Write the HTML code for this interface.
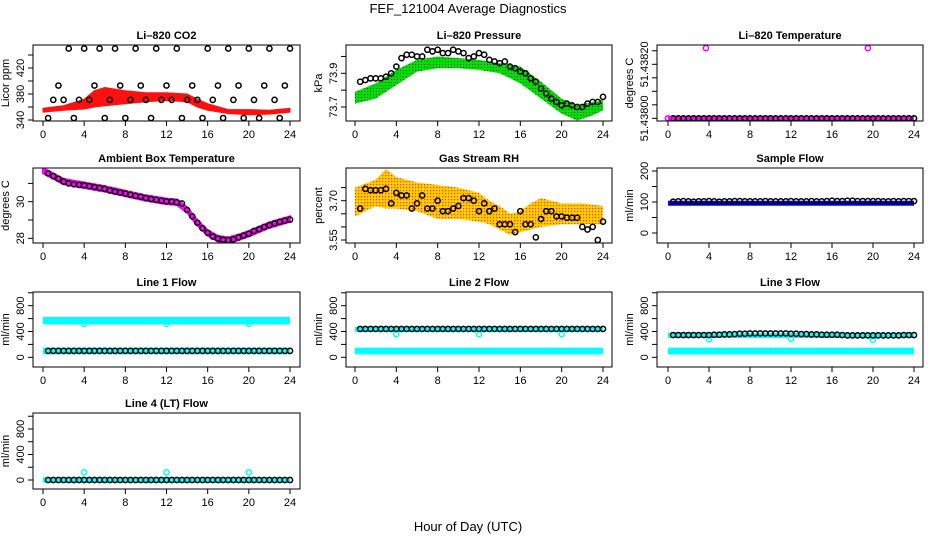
<!DOCTYPE html>
<html><head><meta charset="utf-8"><style>
html,body{margin:0;padding:0;background:#fff;}
svg{display:block;font-family:"Liberation Sans",sans-serif;}
</style></head><body>
<svg id="chart" width="936" height="540" viewBox="0 0 936 540" xmlns="http://www.w3.org/2000/svg">
<defs>
<pattern id="pGreen" width="3" height="3" patternUnits="userSpaceOnUse"><rect width="3" height="3" fill="#00e000"/><rect x="1" y="1" width="1" height="1" fill="#0a3a0a"/></pattern>
<pattern id="pOrange" width="3" height="3" patternUnits="userSpaceOnUse"><rect width="3" height="3" fill="#ffd000"/><rect x="1" y="1" width="1.2" height="1.2" fill="#ff3000"/></pattern>
</defs>
<text x="468" y="13" font-size="13" text-anchor="middle">FEF_121004  Average Diagnostics</text>
<text x="468" y="531" font-size="13" text-anchor="middle">Hour of Day (UTC)</text>
</svg>
<script>
const ptHours=[0.5,1,1.5,2,2.5,3,3.5,4,4.5,5,5.5,6,6.5,7,7.5,8,8.5,9,9.5,10,10.5,11,11.5,12,12.5,13,13.5,14,14.5,15,15.5,16,16.5,17,17.5,18,18.5,19,19.5,20,20.5,21,21.5,22,22.5,23,23.5,24];
const xTicks=[0,4,8,12,16,20,24];
// CO2
const co2Vals=[343,371,393,371,450,343,371,450,371,393,450,343,371,450,393,343,371,450,393,371,343,450,371,393,371,450,343,371,393,371,343,450,371,393,343,450,371,393,343,450,371,343,393,450,371,343,393,450];
const co2BandHours=[0,2,4,5,6,8,10,12,14,15,16,18,20,22,24];
const co2BandHi=[358,362,372,385,390,385,382,382,380,372,365,356,356,355,358];
const co2BandLo=[352,355,357,360,362,365,368,370,368,360,355,350,348,349,352];
// Pressure
const presVals=[73.85,73.86,73.87,73.87,73.87,73.88,73.90,73.94,73.99,74.01,74.01,74.00,74.00,74.04,74.03,74.04,74.02,74.02,74.04,74.03,74.02,73.99,74.00,74.02,74.01,73.98,73.97,73.96,73.97,73.94,73.93,73.91,73.90,73.87,73.85,73.81,73.78,73.75,73.73,73.71,73.72,73.71,73.70,73.70,73.72,73.73,73.73,73.76];
const presBandHours=[0,2,4,6,8,10,12,14,16,18,20,21.5,23,24];
const presBandHi=[73.79,73.84,73.92,73.98,74.00,73.99,73.98,73.96,73.94,73.85,73.75,73.71,73.73,73.74];
const presBandLo=[73.72,73.75,73.83,73.91,73.93,73.93,73.92,73.90,73.84,73.75,73.66,73.62,73.65,73.68];
// Li-820 temperature
const tempVals=[51.438,51.438,51.438,51.438,51.438,51.438,51.438,51.438,51.438,51.438,51.438,51.438,51.438,51.438,51.438,51.438,51.438,51.438,51.438,51.438,51.438,51.438,51.438,51.438,51.438,51.438,51.438,51.438,51.438,51.438,51.438,51.438,51.438,51.438,51.438,51.438,51.438,51.438,51.438,51.438,51.438,51.438,51.438,51.438,51.438,51.438,51.438,51.438];
const tempOutHours=[0,3.7,19.5];
const tempOutVals=[51.438,51.43826,51.43826];
const tempBandHours=[0,24];
const tempBandHi=[51.438008,51.438008];
const tempBandLo=[51.437992,51.437992];
// Ambient
const ambVals=[31.55,31.4,31.25,31.1,31.0,30.95,30.92,30.9,30.85,30.8,30.75,30.7,30.62,30.55,30.5,30.45,30.38,30.32,30.27,30.2,30.15,30.1,30.05,30.02,30.0,29.97,29.9,29.55,29.2,28.85,28.55,28.3,28.1,27.98,27.92,27.9,27.95,28.05,28.15,28.25,28.4,28.5,28.62,28.72,28.82,28.9,28.97,29.02];
const ambBandHours=[0,2,4,6,8,10,12,13,14,15,16,17,18,19,20,22,24];
const ambBandHi=[31.85,31.25,31.05,30.85,30.6,30.35,30.17,30.12,29.7,29.0,28.45,28.13,28.05,28.2,28.4,28.87,29.2];
const ambBandLo=[31.55,30.95,30.75,30.55,30.3,30.05,29.87,29.82,29.4,28.7,28.15,27.83,27.75,27.9,28.1,28.57,28.9];
// RH
const rhVals=[3.67,3.745,3.74,3.74,3.74,3.745,3.69,3.73,3.72,3.72,3.67,3.69,3.72,3.67,3.67,3.70,3.66,3.66,3.67,3.68,3.71,3.71,3.70,3.66,3.69,3.66,3.67,3.61,3.61,3.61,3.58,3.66,3.61,3.61,3.56,3.63,3.66,3.66,3.64,3.64,3.635,3.635,3.635,3.60,3.59,3.60,3.55,3.62];
const rhBandHours=[0,2,3,4,6,8,10,12,13,14,15,16,17,18,20,22,24];
const rhBandHi=[3.75,3.78,3.82,3.79,3.77,3.76,3.75,3.73,3.70,3.68,3.65,3.66,3.69,3.71,3.69,3.69,3.68];
const rhBandLo=[3.64,3.68,3.67,3.67,3.66,3.63,3.63,3.62,3.61,3.59,3.57,3.58,3.59,3.60,3.61,3.61,3.61];
// Sample flow
const sfVals=[101,102,103,102,101,102,102,103,102,101,102,102,103,103,102,102,102,102,103,102,102,102,102,103,102,102,102,103,102,102,103,104,103,103,104,104,103,103,103,103,103,102,102,103,102,103,103,103];
const sfBandHours=[0,24];
const sfBandHi=[104,104];
const sfBandLo=[88,88];
// Line flows
const l1Vals=[100,100,100,100,100,100,100,100,100,100,100,100,100,100,100,100,100,100,100,100,100,100,100,100,100,100,100,100,100,100,100,100,100,100,100,100,100,100,100,100,100,100,100,100,100,100,100,100];
const l2Vals=[440,440,440,440,440,440,440,440,440,440,440,440,440,440,440,440,440,440,440,440,440,440,440,440,440,440,440,440,440,440,440,440,440,440,440,440,440,440,440,440,440,440,440,440,440,440,440,440];
const l3Vals=[345,345,345,345,345,345,345,345,350,350,355,355,360,365,365,370,370,370,370,370,370,370,370,365,365,360,360,355,355,350,350,350,350,345,340,340,340,340,340,340,340,340,340,340,340,345,345,345];
const l4Vals=[0,0,0,0,0,0,0,0,0,0,0,0,0,0,0,0,0,0,0,0,0,0,0,0,0,0,0,0,0,0,0,0,0,0,0,0,0,0,0,0,0,0,0,0,0,0,0,0];
const dipHours=[4,12,20];
const l1DipVals=[520,520,520];
const l2DipVals=[360,360,360];
const l3DipVals=[280,290,270];
const l4DipVals=[120,120,120];
const cyanBandHours=[0,24];
const l1HiBand=[625,625], l1LoBand=[510,510], l1LowHi=[150,150], l1LowLo=[45,45];
const l2HiBand=[470,470], l2LoBand=[390,390], l2LowHi=[150,150], l2LowLo=[45,45];
const l3HiBand=[380,380], l3LoBand=[300,300], l3LowHi=[150,150], l3LowLo=[45,45];
const l4HiBand=[45,45], l4LoBand=[-45,-45];

const NS='http://www.w3.org/2000/svg';
const svg=document.getElementById('chart');
function mk(tag,attrs,parent){const e=document.createElementNS(NS,tag);for(const k in attrs)e.setAttribute(k,attrs[k]);(parent||svg).appendChild(e);return e;}

const cols=[{l:33,r:300,h0:43,h24:290},{l:346,r:612,h0:355,h24:603},{l:657,r:923,h0:668,h24:914}];
const rows=[{t:45,b:121},{t:168,b:243},{t:292,b:367},{t:413,b:489}];

function panel(p){
  const c=cols[p.col], r=rows[p.row];
  const g=mk('g',{});
  
  
  const xs=h=>c.h0+(c.h24-c.h0)*h/24;
  const ys=v=>p.p0+(p.p1-p.p0)*(v-p.v0)/(p.v1-p.v0);
  const clipId='clip-'+p.id;
  const cp=mk('clipPath',{id:clipId},g);mk('rect',{x:c.l,y:r.t,width:c.r-c.l,height:r.b-r.t},cp);
  const plot=mk('g',{'clip-path':'url(#'+clipId+')'},g);
  
  
  (p.bands||[]).forEach(b=>{
    const pts=b.h.map((h,i)=>xs(h)+','+ys(b.hi[i])).concat(b.h.slice().reverse().map((h,i)=>xs(h)+','+ys(b.lo[b.h.length-1-i])));
    const poly=mk('polygon',{points:pts.join(' '),fill:b.fill,stroke:b.stroke||'none','stroke-width':b.sw||0},plot);
    
    
  });
  (p.series||[]).forEach(s=>{
    s.h.forEach((h,i)=>{
      const ci=mk('circle',{cx:xs(h),cy:ys(s.v[i]),r:2.6,fill:'none',stroke:s.color,'stroke-width':1.5},plot);
      
      
    });
  });
  const box=mk('rect',{x:c.l,y:r.t,width:c.r-c.l,height:r.b-r.t,fill:'none',stroke:'#000','stroke-width':1},g);
  
  
  const t=mk('text',{x:(c.l+c.r)/2,y:r.t-6,'font-size':11,'font-weight':'bold','text-anchor':'middle'},g);
  t.textContent=p.title;
  
  
  mk('line',{x1:xs(0),x2:xs(24),y1:r.b,y2:r.b,stroke:'#000'},g);
  xTicks.forEach(h=>{
    mk('line',{x1:xs(h),x2:xs(h),y1:r.b,y2:r.b+5,stroke:'#000'},g);
    const tl=mk('text',{x:xs(h),y:r.b+17,'font-size':11,'text-anchor':'middle'},g);
    tl.textContent=h;
    
    
  });
  p.yt.forEach(v=>{mk('line',{x1:c.l-5,x2:c.l,y1:ys(v),y2:ys(v),stroke:'#000'},g);});
  p.yl.forEach((lab,i)=>{
    const y=ys(p.ylv[i]);
    const tl=mk('text',{x:0,y:0,'font-size':11,'text-anchor':'middle',transform:'translate('+(c.l-9)+','+y+') rotate(-90)'},g);
    tl.textContent=lab;
    
    
  });
  const yl=mk('text',{x:0,y:0,'font-size':11,'text-anchor':'middle',transform:'translate('+(c.l-24)+','+((r.t+r.b)/2)+') rotate(-90)'},g);
  yl.textContent=p.ylab;
  
  
}

const flowTicks=[0,200,400,600,800,1000];
panel({id:'co2',col:0,row:0,title:'Li\u2013820 CO2',ylab:'Licor ppm',v0:340,p0:120,v1:380,p1:94,
  yt:[340,360,380,400,420,440],yl:['340','380','420'],ylv:[340,380,420],
  bands:[{h:co2BandHours,hi:co2BandHi,lo:co2BandLo,fill:'#ff1010',stroke:'#ff1010',sw:1}],
  series:[{h:ptHours,v:co2Vals,color:'#000'}]});
panel({id:'pressure',col:1,row:0,title:'Li\u2013820 Pressure',ylab:'kPa',v0:73.7,p0:107,v1:73.9,p1:73.3,
  yt:[73.7,73.8,73.9,74.0],yl:['73.7','73.9'],ylv:[73.7,73.9],
  bands:[{h:presBandHours,hi:presBandHi,lo:presBandLo,fill:'url(#pGreen)'}],
  series:[{h:ptHours,v:presVals,color:'#000'}]});
panel({id:'li820-temp',col:2,row:0,title:'Li\u2013820 Temperature',ylab:'degrees C',v0:51.438,p0:118.3,v1:51.4382,p1:64.3,
  yt:[51.438,51.43805,51.4381,51.43815,51.4382,51.43825],yl:['51.43800','51.43820'],ylv:[51.438,51.4382],
  bands:[{h:tempBandHours,hi:tempBandHi,lo:tempBandLo,fill:'#ff00ff'}],
  series:[{h:ptHours,v:tempVals,color:'#000'},{h:tempOutHours,v:tempOutVals,color:'#ff00ff'}]});
panel({id:'ambient-temp',col:0,row:1,title:'Ambient Box Temperature',ylab:'degrees C',v0:30,p0:201.7,v1:28,p1:238.3,
  yt:[28,29,30,31],yl:['28','30'],ylv:[28,30],
  bands:[{h:ambBandHours,hi:ambBandHi,lo:ambBandLo,fill:'#ff00ff',stroke:'#ff00ff',sw:2}],
  series:[{h:ptHours,v:ambVals,color:'#000'}]});
panel({id:'gas-rh',col:1,row:1,title:'Gas Stream RH',ylab:'percent',v0:3.70,p0:200.7,v1:3.55,p1:240,
  yt:[3.55,3.6,3.65,3.7,3.75],yl:['3.55','3.70'],ylv:[3.55,3.70],
  bands:[{h:rhBandHours,hi:rhBandHi,lo:rhBandLo,fill:'url(#pOrange)'}],
  series:[{h:ptHours,v:rhVals,color:'#000'}]});
panel({id:'sample-flow',col:2,row:1,title:'Sample Flow',ylab:'ml/min',v0:0,p0:233,v1:200,p1:171,
  yt:[0,50,100,150,200],yl:['0','100','200'],ylv:[0,100,200],
  bands:[{h:sfBandHours,hi:sfBandHi,lo:sfBandLo,fill:'#0000ee'}],
  series:[{h:ptHours,v:sfVals,color:'#000'}]});
panel({id:'line1-flow',col:0,row:2,title:'Line 1 Flow',ylab:'ml/min',v0:0,p0:357.3,v1:800,p1:305.7,
  yt:flowTicks,yl:['0','400','800'],ylv:[0,400,800],
  bands:[{h:cyanBandHours,hi:l1HiBand,lo:l1LoBand,fill:'#00ffff'},{h:cyanBandHours,hi:l1LowHi,lo:l1LowLo,fill:'#00ffff'}],
  series:[{h:dipHours,v:l1DipVals,color:'#00ffff'},{h:ptHours,v:l1Vals,color:'#000'}]});
panel({id:'line2-flow',col:1,row:2,title:'Line 2 Flow',ylab:'ml/min',v0:0,p0:357.3,v1:800,p1:305.7,
  yt:flowTicks,yl:['0','400','800'],ylv:[0,400,800],
  bands:[{h:cyanBandHours,hi:l2HiBand,lo:l2LoBand,fill:'#00ffff'},{h:cyanBandHours,hi:l2LowHi,lo:l2LowLo,fill:'#00ffff'}],
  series:[{h:dipHours,v:l2DipVals,color:'#00ffff'},{h:ptHours,v:l2Vals,color:'#000'}]});
panel({id:'line3-flow',col:2,row:2,title:'Line 3 Flow',ylab:'ml/min',v0:0,p0:357.3,v1:800,p1:305.7,
  yt:flowTicks,yl:['0','400','800'],ylv:[0,400,800],
  bands:[{h:cyanBandHours,hi:l3HiBand,lo:l3LoBand,fill:'#00ffff'},{h:cyanBandHours,hi:l3LowHi,lo:l3LowLo,fill:'#00ffff'}],
  series:[{h:dipHours,v:l3DipVals,color:'#00ffff'},{h:ptHours,v:l3Vals,color:'#000'}]});
panel({id:'line4-flow',col:0,row:3,title:'Line 4 (LT) Flow',ylab:'ml/min',v0:0,p0:480,v1:800,p1:429,
  yt:flowTicks,yl:['0','400','800'],ylv:[0,400,800],
  bands:[{h:cyanBandHours,hi:l4HiBand,lo:l4LoBand,fill:'#00ffff'}],
  series:[{h:dipHours,v:l4DipVals,color:'#00ffff'},{h:ptHours,v:l4Vals,color:'#000'}]});
</script>
</body></html>
